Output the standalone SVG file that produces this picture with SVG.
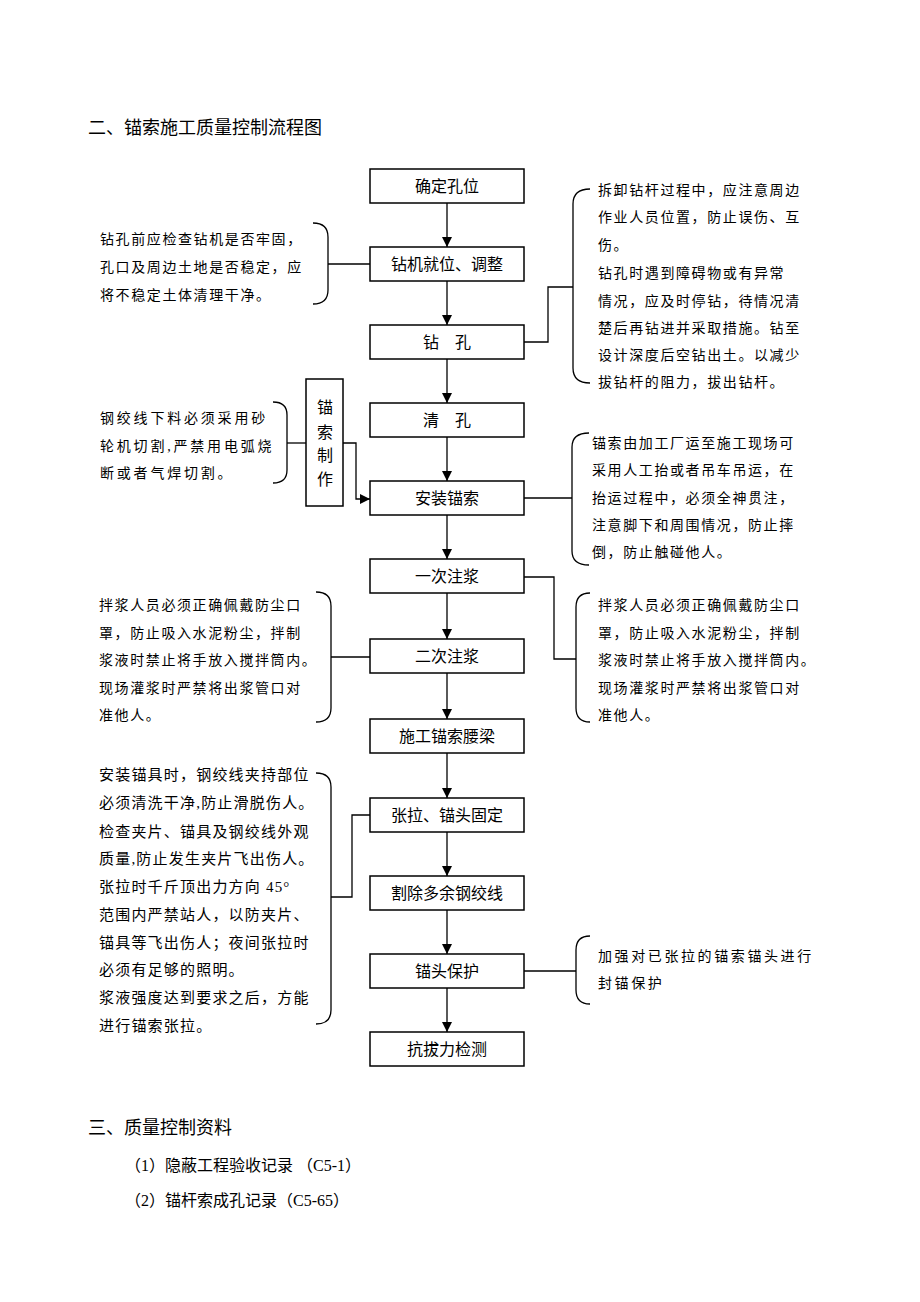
<svg xmlns="http://www.w3.org/2000/svg" width="920" height="1302" viewBox="0 0 920 1302">
<style>
text{font-family:"Liberation Serif","Noto Sans CJK SC",serif;fill:#000}
.h{font-size:18px}
.lb{font-size:16px;text-anchor:middle}
.n{font-size:14px;letter-spacing:1.6px}
.n2{font-size:14px;letter-spacing:2.8px}
.n4{font-size:15px;letter-spacing:1.2px}
.r4{font-size:14px;letter-spacing:2.6px}
.it{font-size:16px}
.box{fill:#fff;stroke:#000;stroke-width:1.5}
.ln{fill:none;stroke:#000;stroke-width:1.3}
</style>
<defs>
<marker id="ah" viewBox="0 0 10 10" refX="10" refY="5" markerWidth="10" markerHeight="10" markerUnits="userSpaceOnUse" orient="auto">
<path d="M0,0 L10,5 L0,10 Z" fill="#000"/>
</marker>
</defs>
<rect width="920" height="1302" fill="#fff"/>

<text class="h" x="88" y="134">二、锚索施工质量控制流程图</text>

<g id="connectors">
<path class="ln" d="M447,203 V247" marker-end="url(#ah)"/>
<path class="ln" d="M447,281 V325" marker-end="url(#ah)"/>
<path class="ln" d="M447,359 V403" marker-end="url(#ah)"/>
<path class="ln" d="M447,437 V481" marker-end="url(#ah)"/>
<path class="ln" d="M447,515 V559" marker-end="url(#ah)"/>
<path class="ln" d="M447,593 V639" marker-end="url(#ah)"/>
<path class="ln" d="M447,673 V719" marker-end="url(#ah)"/>
<path class="ln" d="M447,753 V798" marker-end="url(#ah)"/>
<path class="ln" d="M447,832 V876" marker-end="url(#ah)"/>
<path class="ln" d="M447,910 V954" marker-end="url(#ah)"/>
<path class="ln" d="M447,988 V1032" marker-end="url(#ah)"/>
<path class="ln" d="M328,264 H370"/>
<path class="ln" d="M287,443 H306"/>
<path class="ln" d="M343,443 H356 V499 H370" marker-end="url(#ah)"/>
<path class="ln" d="M524,342 H548 V287 H573"/>
<path class="ln" d="M524,498 H572"/>
<path class="ln" d="M331,657 H370"/>
<path class="ln" d="M524,577 H554 V659 H576"/>
<path class="ln" d="M331,897 H352 V815 H370"/>
<path class="ln" d="M524,971 H576"/>
</g>

<g id="n1"><rect class="box" x="370" y="169" width="154" height="34"/><text class="lb" x="447" y="192">确定孔位</text></g>
<g id="n2"><rect class="box" x="370" y="247" width="154" height="34"/><text class="lb" x="447" y="270">钻机就位、调整</text></g>
<g id="n3"><rect class="box" x="370" y="325" width="154" height="34"/><text class="lb" x="447" y="348">钻　孔</text></g>
<g id="n4"><rect class="box" x="370" y="403" width="154" height="34"/><text class="lb" x="447" y="426">清　孔</text></g>
<g id="n5"><rect class="box" x="370" y="481" width="154" height="34"/><text class="lb" x="447" y="504">安装锚索</text></g>
<g id="n6"><rect class="box" x="370" y="559" width="154" height="34"/><text class="lb" x="447" y="582">一次注浆</text></g>
<g id="n7"><rect class="box" x="370" y="639" width="154" height="34"/><text class="lb" x="447" y="662">二次注浆</text></g>
<g id="n8"><rect class="box" x="370" y="719" width="154" height="34"/><text class="lb" x="447" y="742">施工锚索腰梁</text></g>
<g id="n9"><rect class="box" x="370" y="798" width="154" height="34"/><text class="lb" x="447" y="821">张拉、锚头固定</text></g>
<g id="n10"><rect class="box" x="370" y="876" width="154" height="34"/><text class="lb" x="447" y="899">割除多余钢绞线</text></g>
<g id="n11"><rect class="box" x="370" y="954" width="154" height="34"/><text class="lb" x="447" y="977">锚头保护</text></g>
<g id="n12"><rect class="box" x="370" y="1032" width="154" height="34"/><text class="lb" x="447" y="1055">抗拔力检测</text></g>

<g id="make">
<rect class="box" x="306" y="379" width="37" height="127"/>
<text class="lb" x="325" y="413">锚</text>
<text class="lb" x="325" y="438">索</text>
<text class="lb" x="325" y="461">制</text>
<text class="lb" x="325" y="485">作</text>
</g>

<g id="note-l1">
<path class="ln" d="M313,223 Q328,223 328,237 V290 Q328,304 313,304"/>
<text class="n" x="100" y="244">钻孔前应检查钻机是否牢固，</text>
<text class="n" x="100" y="272">孔口及周边土地是否稳定，应</text>
<text class="n" x="100" y="300">将不稳定土体清理干净。</text>
</g>

<g id="note-l2">
<path class="ln" d="M273,402 Q287,402 287,415 V470 Q287,483 273,483"/>
<text class="n2" x="100" y="423">钢绞线下料必须采用砂</text>
<text class="n2" x="100" y="451">轮机切割,严禁用电弧烧</text>
<text class="n2" x="100" y="478">断或者气焊切割。</text>
</g>

<g id="note-r1">
<path class="ln" d="M590,189 Q573,189 573,204 V368 Q573,383 590,383"/>
<text class="n" x="598" y="195">拆卸钻杆过程中，应注意周边</text>
<text class="n" x="598" y="222">作业人员位置，防止误伤、互</text>
<text class="n" x="598" y="250">伤。</text>
<text class="n" x="598" y="278">钻孔时遇到障碍物或有异常</text>
<text class="n" x="598" y="306">情况，应及时停钻，待情况清</text>
<text class="n" x="598" y="333">楚后再钻进并采取措施。钻至</text>
<text class="n" x="598" y="360">设计深度后空钻出土。以减少</text>
<text class="n" x="598" y="387">拔钻杆的阻力，拔出钻杆。</text>
</g>

<g id="note-r2">
<path class="ln" d="M589,433 Q572,433 572,447 V551 Q572,565 589,565"/>
<text class="n" x="592" y="448">锚索由加工厂运至施工现场可</text>
<text class="n" x="592" y="475">采用人工抬或者吊车吊运，在</text>
<text class="n" x="592" y="503">抬运过程中，必须全神贯注，</text>
<text class="n" x="592" y="530">注意脚下和周围情况，防止摔</text>
<text class="n" x="592" y="557">倒，防止触碰他人。</text>
</g>

<g id="note-l3">
<path class="ln" d="M316,592 Q331,592 331,606 V708 Q331,722 316,722"/>
<text class="n" x="99" y="610">拌浆人员必须正确佩戴防尘口</text>
<text class="n" x="99" y="638">罩，防止吸入水泥粉尘，拌制</text>
<text class="n" x="99" y="665">浆液时禁止将手放入搅拌筒内。</text>
<text class="n" x="99" y="693">现场灌浆时严禁将出浆管口对</text>
<text class="n" x="99" y="720">准他人。</text>
</g>

<g id="note-r3">
<path class="ln" d="M590,593 Q576,593 576,607 V708 Q576,722 590,722"/>
<text class="n" x="598" y="610">拌浆人员必须正确佩戴防尘口</text>
<text class="n" x="598" y="638">罩，防止吸入水泥粉尘，拌制</text>
<text class="n" x="598" y="665">浆液时禁止将手放入搅拌筒内。</text>
<text class="n" x="598" y="693">现场灌浆时严禁将出浆管口对</text>
<text class="n" x="598" y="720">准他人。</text>
</g>

<g id="note-l4">
<path class="ln" d="M316,773 Q331,773 331,787 V1010 Q331,1024 316,1024"/>
<text class="n4" x="99" y="780">安装锚具时，钢绞线夹持部位</text>
<text class="n4" x="99" y="808">必须清洗干净,防止滑脱伤人。</text>
<text class="n4" x="99" y="837">检查夹片、锚具及钢绞线外观</text>
<text class="n4" x="99" y="864">质量,防止发生夹片飞出伤人。</text>
<text class="n4" x="99" y="892">张拉时千斤顶出力方向 45°</text>
<text class="n4" x="99" y="920">范围内严禁站人，以防夹片、</text>
<text class="n4" x="99" y="948">锚具等飞出伤人；夜间张拉时</text>
<text class="n4" x="99" y="975">必须有足够的照明。</text>
<text class="n4" x="99" y="1003">浆液强度达到要求之后，方能</text>
<text class="n4" x="99" y="1031">进行锚索张拉。</text>
</g>

<g id="note-r4">
<path class="ln" d="M590,936 Q576,936 576,950 V990 Q576,1004 590,1004"/>
<text class="r4" x="598" y="961">加强对已张拉的锚索锚头进行</text>
<text class="r4" x="598" y="988">封锚保护</text>
</g>

<text class="h" x="88" y="1134">三、质量控制资料</text>
<text class="it" x="125" y="1171">（1）隐蔽工程验收记录 （C5-1）</text>
<text class="it" x="125" y="1206">（2）锚杆索成孔记录（C5-65）</text>
</svg>
